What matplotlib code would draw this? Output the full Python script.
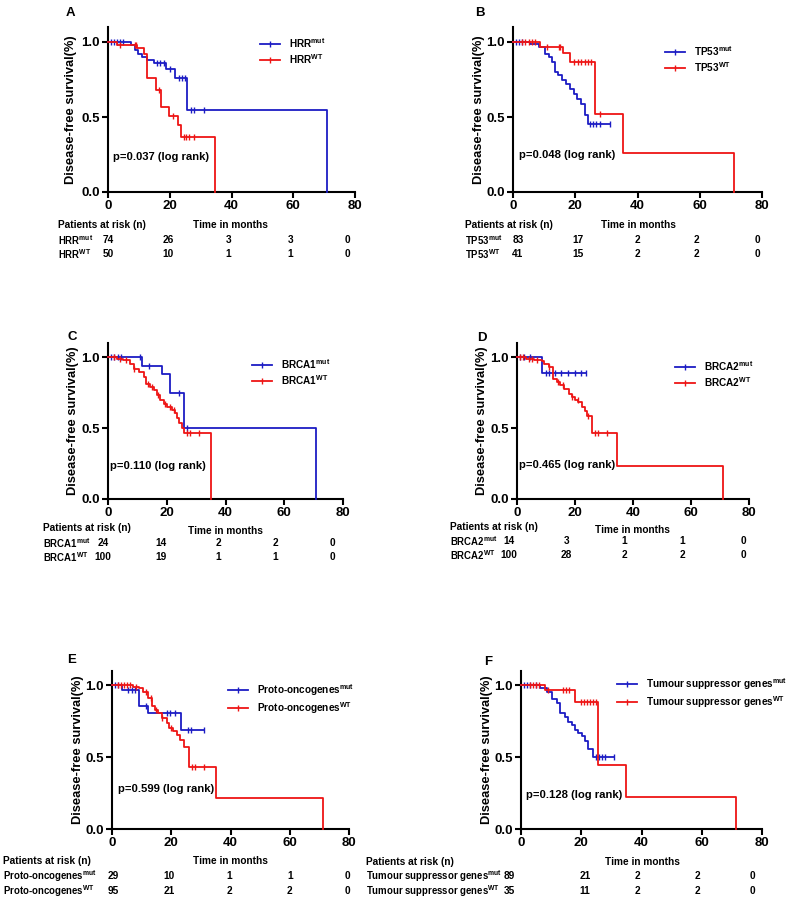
import numpy as np
import matplotlib
matplotlib.use("Agg")
import matplotlib.pyplot as plt
from matplotlib.lines import Line2D
from matplotlib.transforms import blended_transform_factory

plt.rcParams['font.family'] = ['Liberation Sans', 'DejaVu Sans']
plt.rcParams['font.weight'] = 'bold'
plt.rcParams['mathtext.fontset'] = 'custom'
plt.rcParams['mathtext.rm'] = 'Liberation Sans:bold'
plt.rcParams['mathtext.bf'] = 'Liberation Sans:bold'
plt.rcParams['mathtext.it'] = 'Liberation Sans:bold'

BLUE = '#1c1cc4'
RED = '#ee1515'

# ---------------- data ----------------
panels = ['A', 'B', 'C', 'D', 'E', 'F']
genes = ['HRR', 'TP53', 'BRCA1', 'BRCA2', 'Proto-oncogenes', 'Tumour suppressor genes']
p_values = ['0.037', '0.048', '0.110', '0.465', '0.599', '0.128']
time_ticks = [0, 20, 40, 60, 80]

# A: HRR
A_mut_t = [7.6, 8.6, 9.7, 11.1, 12.6, 14.9, 18.7, 21.6, 25.7, 70.8]
A_mut_s = [0.98, 0.95, 0.92, 0.90, 0.88, 0.86, 0.82, 0.76, 0.55, 0.0]
A_mut_c = [1, 2, 3, 4, 5, 16, 17, 18, 20, 23, 24, 25, 27, 28, 31]
A_wt_t = [3, 9.5, 11.5, 12.6, 15.7, 17.3, 19.8, 22.7, 23.8, 34.6]
A_wt_s = [0.98, 0.96, 0.92, 0.76, 0.68, 0.57, 0.51, 0.45, 0.37, 0.0]
A_wt_c = [4, 8.6, 9, 16.5, 21, 24.5, 25.4, 26.3, 28]
A_risk_mut = [74, 26, 3, 3, 0]
A_risk_wt = [50, 10, 1, 1, 0]

# B: TP53
B_mut_t = [5.5, 8.5, 10.4, 11.5, 12.5, 13.6, 14.6, 15.7, 17, 18.3, 19.5, 20.6, 21.8, 23.2, 24.0]
B_mut_s = [0.99, 0.967, 0.92, 0.90, 0.867, 0.80, 0.778, 0.744, 0.722, 0.689, 0.656, 0.622, 0.589, 0.511, 0.456]
B_mut_c = [1, 2, 3, 24.6, 25.7, 26.8, 28.1, 31.3]
B_wt_t = [8.8, 16, 18.2, 26.2, 35.2, 71.1]
B_wt_s = [0.97, 0.93, 0.87, 0.52, 0.26, 0.0]
B_wt_c = [3, 4, 5, 6, 7, 10.9, 14.7, 15.2, 19.5, 21, 22, 23, 24, 25, 28]
B_risk_mut = [83, 17, 2, 2, 0]
B_risk_wt = [41, 15, 2, 2, 0]

# C: BRCA1
C_mut_t = [11.5, 18.3, 21.2, 25.9, 70.9]
C_mut_s = [0.94, 0.88, 0.75, 0.50, 0.0]
C_mut_c = [1, 2, 3.5, 4.5, 11, 14, 24, 27]
C_wt_t = [3, 5, 7.6, 8.7, 10.4, 12.1, 13, 14.4, 15.5, 16.6, 17.8, 18.9, 20, 21.7, 22.9, 23.6, 24.3, 25.1, 25.9, 35.1]
C_wt_s = [0.99, 0.977, 0.953, 0.918, 0.895, 0.86, 0.813, 0.79, 0.766, 0.731, 0.696, 0.673, 0.65, 0.626, 0.603, 0.568, 0.537, 0.498, 0.467, 0.0]
C_wt_c = [2, 4, 6, 9, 13.5, 15, 17, 19.5, 21, 22.5, 27, 28, 31]
C_risk_mut = [24, 14, 2, 2, 0]
C_risk_wt = [100, 19, 1, 1, 0]

# D: BRCA2
D_mut_t = [8.6]
D_mut_s = [0.887]
D_mut_c = [1, 2.5, 4.5, 10, 11, 13, 15, 17.5, 20, 22, 23.8]
D_wt_t = [3, 6, 8.6, 9.2, 10.9, 12.4, 13.8, 14.9, 16.3, 17.8, 18.9, 20.1, 21.2, 22.3, 23.5, 24.1, 25.8, 34.6, 71.1]
D_wt_s = [0.99, 0.98, 0.97, 0.953, 0.929, 0.846, 0.827, 0.804, 0.775, 0.74, 0.716, 0.70, 0.681, 0.65, 0.622, 0.582, 0.463, 0.236, 0.0]
D_wt_c = [1, 2, 4, 5, 7, 11, 14, 16, 19, 21, 24.5, 27, 28, 31]
D_risk_mut = [14, 3, 1, 1, 0]
D_risk_wt = [100, 28, 2, 2, 0]

# E: Proto-oncogenes
E_mut_t = [3.3, 9.1, 12.3, 23.2]
E_mut_s = [0.965, 0.858, 0.805, 0.69]
E_mut_c = [1, 2, 5.5, 6.6, 7.8, 11.5, 18.5, 19.6, 21.3, 25.8, 26.6, 31.2]
E_wt_t = [7, 9, 10.6, 12.3, 13.4, 14.5, 15.6, 16.8, 18.4, 19.3, 20.5, 21.8, 22.9, 24.3, 26.1, 35.1, 71.3]
E_wt_s = [0.99, 0.98, 0.951, 0.912, 0.853, 0.83, 0.807, 0.772, 0.737, 0.702, 0.679, 0.656, 0.621, 0.574, 0.435, 0.214, 0.0]
E_wt_c = [2, 3, 4, 5, 6, 8, 11.5, 13, 15, 17, 20, 27, 28, 31]
E_risk_mut = [29, 10, 1, 1, 0]
E_risk_wt = [95, 21, 2, 2, 0]

# F: Tumour suppressor genes
F_mut_t = [6.3, 8.7, 10.2, 11.8, 12.9, 14.6, 15.7, 16.8, 17.9, 19, 20.1, 21.2, 22.3, 24]
F_mut_s = [0.982, 0.954, 0.908, 0.874, 0.805, 0.783, 0.748, 0.721, 0.691, 0.668, 0.645, 0.611, 0.554, 0.501]
F_mut_c = [1, 2, 3, 5, 25, 26, 27, 28, 31]
F_wt_t = [8, 17.9, 25.7, 34.8, 71.3]
F_wt_s = [0.966, 0.886, 0.444, 0.222, 0.0]
F_wt_c = [3, 4, 5, 6, 9, 14, 15, 16, 20, 21, 22, 23, 24, 25]
F_risk_mut = [89, 21, 2, 2, 0]
F_risk_wt = [35, 11, 2, 2, 0]

curves = {
    'A': (A_mut_t, A_mut_s, A_mut_c, A_wt_t, A_wt_s, A_wt_c, A_risk_mut, A_risk_wt),
    'B': (B_mut_t, B_mut_s, B_mut_c, B_wt_t, B_wt_s, B_wt_c, B_risk_mut, B_risk_wt),
    'C': (C_mut_t, C_mut_s, C_mut_c, C_wt_t, C_wt_s, C_wt_c, C_risk_mut, C_risk_wt),
    'D': (D_mut_t, D_mut_s, D_mut_c, D_wt_t, D_wt_s, D_wt_c, D_risk_mut, D_risk_wt),
    'E': (E_mut_t, E_mut_s, E_mut_c, E_wt_t, E_wt_s, E_wt_c, E_risk_mut, E_risk_wt),
    'F': (F_mut_t, F_mut_s, F_mut_c, F_wt_t, F_wt_s, F_wt_c, F_risk_mut, F_risk_wt),
}

# ---------------- layout (pixels in a 789x901 canvas) ----------------
W, H = 789, 901
ax_px = {
    'A': (108, 355, 27, 192), 'B': (513, 762, 27, 192),
    'C': (108, 343, 343, 499), 'D': (517, 749, 343, 499),
    'E': (112, 349, 671, 829), 'F': (521, 762, 671, 829),
}
letter_px = {'A': (70, 13), 'B': (480, 13), 'C': (72, 337), 'D': (482, 338),
             'E': (72, 660), 'F': (488, 662)}
legend_pos = {'A': (0.615, 0.945), 'B': (0.61, 0.897), 'C': (0.613, 0.91),
              'D': (0.68, 0.897), 'E': (0.49, 0.93), 'F': (0.40, 0.968)}
ylabel_x = {'A': -0.148, 'B': -0.137, 'C': -0.149, 'D': -0.151, 'E': -0.143, 'F': -0.141}
p_pos = {'A': (1.6, 0.23), 'B': (2.0, 0.25), 'C': (0.7, 0.23), 'D': (0.7, 0.24),
         'E': (2.0, 0.28), 'F': (1.7, 0.24)}
table_px = {
    'A': (58, 225, 240, 254, 230, 225), 'B': (465, 225, 240, 254, 638, 225),
    'C': (43, 528, 543, 557, 225, 531), 'D': (450, 527, 541, 555, 632, 530),
    'E': (3, 861, 876, 891, 230, 861), 'F': (366, 862, 876, 891, 642, 862),
}
col_x = {
    'A': [0, 19.5, 39, 59, 77.5], 'B': [1.6, 21, 40, 59, 78.5],
    'C': [-1.7, 18, 37.5, 57, 76.5], 'D': [-2.8, 17, 37, 57, 78],
    'E': [0.3, 19.3, 39.6, 60, 79.6], 'F': [-4.0, 21.2, 38.5, 58.5, 76.7],
}

fig = plt.figure(figsize=(W / 100, H / 100), dpi=100)
fig.patch.set_facecolor('white')


def fy(py):
    return 1 - py / H


def draw_curve(ax, t, s, c, color):
    x = np.array([0.0] + list(t))
    y = np.array([1.0] + list(s))
    if y[-1] > 0:
        end = max(c) if len(c) else x[-1]
        x = np.append(x, end)
        y = np.append(y, y[-1])
    ax.step(x, y, where='post', color=color, lw=1.3, clip_on=False, zorder=3)
    cx = np.array(c, dtype=float)
    idx = np.searchsorted(x, cx, side='right') - 1
    ax.plot(cx, y[idx], ls='none', marker='|', ms=4, mew=1.0, color=color, zorder=3)


for i, p in enumerate(panels):
    l, r, t, b = ax_px[p]
    ax = fig.add_axes([l / W, fy(b), (r - l) / W, (b - t) / H])
    mut_t, mut_s, mut_c, wt_t, wt_s, wt_c, risk_mut, risk_wt = curves[p]
    draw_curve(ax, mut_t, mut_s, mut_c, BLUE)
    draw_curve(ax, wt_t, wt_s, wt_c, RED)
    ax.set_xlim(0, 80)
    ax.set_ylim(0, 1.1)
    ax.set_xticks(time_ticks)
    ax.set_yticks([0.0, 0.5, 1.0])
    ax.set_yticklabels(['0.0', '0.5', '1.0'])
    for sp in ['top', 'right']:
        ax.spines[sp].set_visible(False)
    for sp in ['left', 'bottom']:
        ax.spines[sp].set_linewidth(1.5)
    ax.tick_params(axis='both', direction='out', length=4, width=1.5, labelsize=9.5, pad=2)
    for lab in ax.get_xticklabels() + ax.get_yticklabels():
        lab.set_fontweight('bold')
    ax.set_ylabel('Disease-free survival(%)', fontsize=9.3, fontweight='bold', va='center')
    ax.yaxis.set_label_coords(ylabel_x[p], 0.5)

    g = genes[i]
    lab_mut = g + r'$^{\mathrm{mut}}$'
    lab_wt = g + r'$^{\mathrm{WT}}$'
    handles = [Line2D([], [], color=BLUE, lw=1.3, marker='|', ms=4, mew=1.0),
               Line2D([], [], color=RED, lw=1.3, marker='|', ms=4, mew=1.0)]
    ax.legend(handles, [lab_mut, lab_wt], loc='upper left', bbox_to_anchor=legend_pos[p],
              frameon=False, handlelength=2.0, handletextpad=0.9,
              labelspacing=0.2, borderpad=0, borderaxespad=0, numpoints=1,
              prop={'weight': 'bold', 'size': 7.2})

    px, py = p_pos[p]
    ax.text(px, py, 'p=' + p_values[i] + ' (log rank)', fontsize=8.1, fontweight='bold',
            ha='left', va='center')

    lx, ly = letter_px[p]
    fig.text(lx / W, fy(ly), p, fontsize=9.5, fontweight='bold', ha='center', va='center')

    # risk table
    tlx, hy, r1, r2, tmx, tmy = table_px[p]
    fs = 7.3
    fs_row = 6.9
    fig.text(tlx / W, fy(hy), 'Patients at risk (n)', fontsize=fs, fontweight='bold',
             ha='left', va='center')
    fig.text(tmx / W, fy(tmy), 'Time in months', fontsize=fs, fontweight='bold',
             ha='center', va='center')
    fig.text(tlx / W, fy(r1), lab_mut, fontsize=fs_row, fontweight='bold', ha='left', va='center')
    fig.text(tlx / W, fy(r2), lab_wt, fontsize=fs_row, fontweight='bold', ha='left', va='center')
    tr = blended_transform_factory(ax.transData, fig.transFigure)
    for j in range(5):
        ax.text(col_x[p][j], fy(r1), str(risk_mut[j]), transform=tr, fontsize=fs,
                fontweight='bold', ha='center', va='center', clip_on=False)
        ax.text(col_x[p][j], fy(r2), str(risk_wt[j]), transform=tr, fontsize=fs,
                fontweight='bold', ha='center', va='center', clip_on=False)

fig.savefig('out.png', dpi=100, facecolor='white')
